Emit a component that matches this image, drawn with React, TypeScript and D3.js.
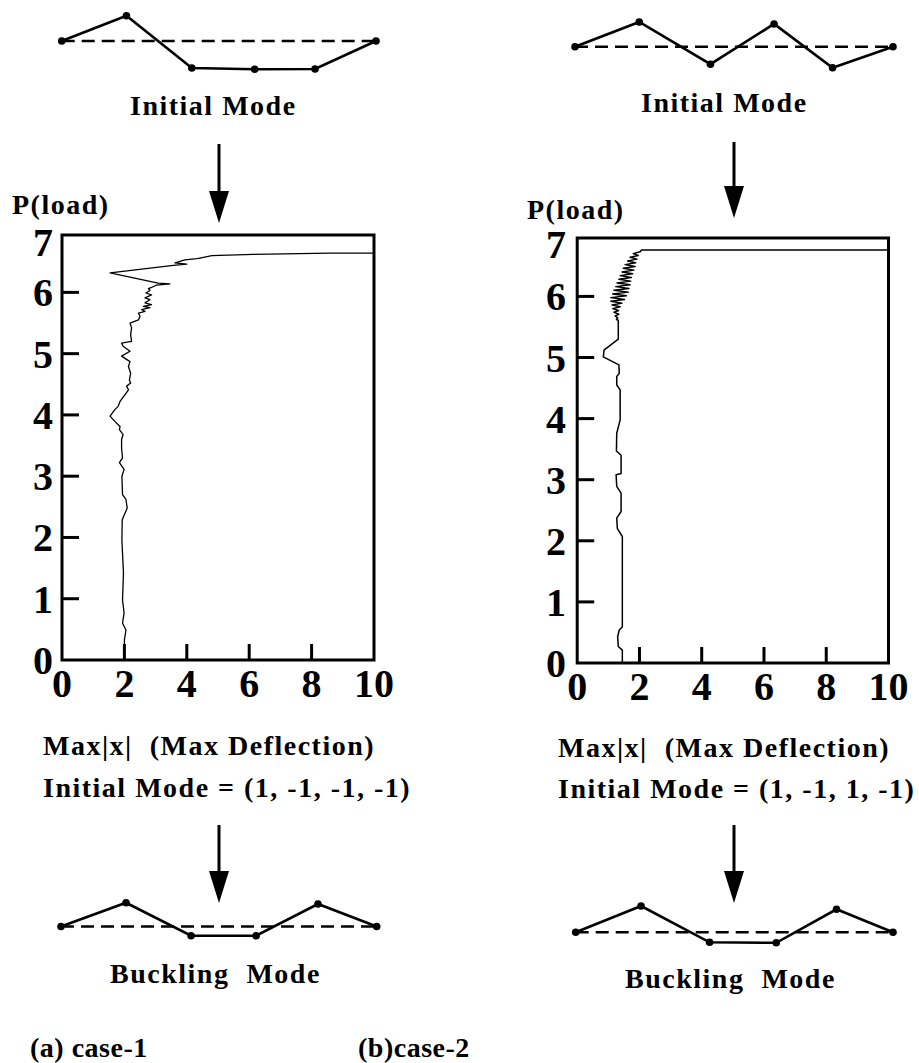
import React from 'react';
import * as d3 from 'd3';

// ---------- axis ticks ----------
const xTickValues = [0, 2, 4, 6, 8, 10];
const yTickValues = [0, 1, 2, 3, 4, 5, 6, 7];

// ---------- case-1 load / max deflection curve ----------
const case1Deflection = [
  2.0, 2.0, 2.05, 1.94, 1.99, 1.94, 1.97, 1.92, 1.93, 2.09, 2.05, 1.94, 1.92, 1.99, 1.84, 1.94,
  1.91, 1.91, 1.96, 1.84, 1.86, 1.7, 1.54, 1.7, 1.8, 1.86, 2.02, 2.13, 2.07, 2.2, 2.16, 2.2,
  2.13, 2.18, 1.91, 2.18, 1.96, 1.91, 2.23, 2.2, 2.23, 2.18, 2.45, 2.5, 2.45, 2.66, 2.55, 2.82,
  2.61, 2.87, 2.66, 2.82, 2.66, 2.87, 2.69, 2.82, 2.77, 2.87, 3.03, 3.46, 3.08, 1.54, 3.57, 4.0,
  3.62, 3.94, 4.32, 4.42, 4.8, 6.13, 8.59, 10.0,
];
const case1Load = [
  0.0, 0.33, 0.49, 0.6, 0.77, 0.98, 1.42, 1.96, 2.29, 2.48, 2.62, 2.7, 3.0, 3.11, 3.22, 3.3,
  3.45, 3.6, 3.68, 3.76, 3.81, 3.89, 3.98, 4.09, 4.14, 4.22, 4.33, 4.41, 4.47, 4.52, 4.57, 4.68,
  4.79, 4.87, 4.96, 5.04, 5.12, 5.17, 5.2, 5.31, 5.42, 5.5, 5.55, 5.61, 5.66, 5.69, 5.72, 5.75,
  5.77, 5.8, 5.83, 5.88, 5.91, 5.96, 5.99, 6.03, 6.06, 6.08, 6.12, 6.14, 6.15, 6.32, 6.44, 6.46,
  6.48, 6.53, 6.55, 6.56, 6.6, 6.62, 6.64, 6.64,
];

// ---------- case-2 load / max deflection curve ----------
const case2Deflection = [
  1.45, 1.45, 1.32, 1.3, 1.35, 1.45, 1.45, 1.29, 1.27, 1.41, 1.41, 1.27, 1.25, 1.41, 1.41, 1.26,
  1.27, 1.38, 1.38, 1.27, 1.27, 1.35, 1.34, 0.84, 0.86, 1.32, 1.32,
  1.26, 1.3, 1.22, 1.34, 1.18, 1.33, 1.14, 1.38, 1.12, 1.44, 1.08, 1.52, 1.08, 1.58, 1.14, 1.64,
  1.18, 1.66, 1.24, 1.7, 1.28, 1.72, 1.34, 1.74, 1.38, 1.78, 1.44, 1.82, 1.48, 1.86, 1.54, 1.88,
  1.62, 1.92, 1.7, 1.96, 1.8, 2.02, 2.07, 10.0,
];
const case2Load = [
  0.0, 0.21, 0.27, 0.43, 0.54, 0.59, 2.07, 2.2, 2.37, 2.48, 2.78, 2.89, 3.08, 3.1, 3.4, 3.47,
  3.76, 3.98, 4.47, 4.55, 4.69, 4.74, 4.88, 5.01, 5.12, 5.3, 5.61,
  5.62, 5.65, 5.68, 5.71, 5.74, 5.77, 5.8, 5.83, 5.86, 5.89, 5.92, 5.95, 5.98, 6.01, 6.04, 6.07,
  6.1, 6.13, 6.16, 6.19, 6.22, 6.25, 6.28, 6.31, 6.34, 6.37, 6.4, 6.43, 6.46, 6.49, 6.52, 6.55,
  6.58, 6.61, 6.64, 6.67, 6.7, 6.73, 6.76, 6.76,
];

// ---------- mode shape diagrams (node position, normalised displacement) ----------
const initialNodesA = [0, 1.03, 2.07, 3.07, 4.03, 5];
const initialModeA = [0, 1.01, -1.08, -1.13, -1.12, 0];
const initialNodesB = [0, 1.01, 2.13, 3.13, 4.05, 5];
const initialModeB = [0, 0.99, -0.7, 0.91, -0.84, 0];
const bucklingNodesA = [0, 1.03, 2.06, 3.09, 4.07, 5];
const bucklingModeA = [0, 0.95, -0.37, -0.37, 0.9, 0];
const bucklingNodesB = [0, 1.03, 2.11, 3.16, 4.11, 5];
const bucklingModeB = [0, 1.05, -0.4, -0.42, 0.92, 0];

const FONT = '"Liberation Serif", "Times New Roman", Times, serif';

type ChartProps = {
  x0: number; x1: number; yBottom: number; unit: number; frameTop: number;
  defl: number[]; load: number[]; labelRight: number; label7Baseline: number; lineWidth: number;
};

function Chart({ x0, x1, yBottom, unit, frameTop, defl, load, labelRight, label7Baseline, lineWidth }: ChartProps) {
  const x = d3.scaleLinear().domain([0, 10]).range([x0, x1]);
  const y = d3.scaleLinear().domain([0, 1]).range([yBottom, yBottom - unit]);
  const pts: [number, number][] = defl.map((d, i) => [d, load[i]]);
  const line = d3.line<[number, number]>().x(d => x(d[0])).y(d => y(d[1]));
  return (
    <g>
      <path d={line(pts) || ''} fill="none" stroke="#000" strokeWidth={lineWidth} strokeLinejoin="round" />
      <rect x={x0} y={frameTop} width={x1 - x0} height={yBottom - frameTop} fill="none" stroke="#000" strokeWidth={3} />
      {yTickValues.filter(t => t >= 1 && t <= 6).map(t => (
        <line key={'yt' + t} x1={x0} x2={x0 + 17} y1={y(t)} y2={y(t)} stroke="#000" strokeWidth={3} />
      ))}
      {xTickValues.filter(t => t > 0 && t < 10).map(t => (
        <line key={'xt' + t} x1={x(t)} x2={x(t)} y1={yBottom} y2={yBottom - 16} stroke="#000" strokeWidth={3} />
      ))}
      {yTickValues.map(t => (
        <text key={'yl' + t} x={labelRight} y={t === 7 ? label7Baseline : y(t) + 14} textAnchor="end"
          fontFamily={FONT} fontWeight="bold" fontSize={40}>{t}</text>
      ))}
      {xTickValues.map(t => (
        <text key={'xl' + t} x={x(t)} y={yBottom + 37} textAnchor="middle"
          fontFamily={FONT} fontWeight="bold" fontSize={40}>{t}</text>
      ))}
    </g>
  );
}

type ModeProps = { xStart: number; xEnd: number; base: number; nodes: number[]; mode: number[] };

function ModeDiagram({ xStart, xEnd, base, nodes, mode }: ModeProps) {
  const x = d3.scaleLinear().domain([0, 5]).range([xStart, xEnd]);
  const y = d3.scaleLinear().domain([-1, 1]).range([base + 25, base - 25]);
  const pts: [number, number][] = nodes.map((n, i) => [n, mode[i]]);
  const line = d3.line<[number, number]>().x(d => x(d[0])).y(d => y(d[1]));
  return (
    <g>
      <line x1={x(0)} x2={x(5)} y1={base} y2={base} stroke="#000" strokeWidth={2.4} strokeDasharray="13 7" />
      <path d={line(pts) || ''} fill="none" stroke="#000" strokeWidth={2.6} />
      {pts.map((p, i) => (
        <circle key={i} cx={x(p[0])} cy={y(p[1])} r={3.8} fill="#000" />
      ))}
    </g>
  );
}

function Arrow({ x, top, tip }: { x: number; top: number; tip: number }) {
  const headLen = 32;
  return (
    <g>
      <line x1={x} x2={x} y1={top} y2={tip - headLen + 2} stroke="#000" strokeWidth={3} />
      <polygon points={`${x - 10},${tip - headLen} ${x + 10},${tip - headLen} ${x},${tip}`} fill="#000" />
    </g>
  );
}

function Label({ x, y, children, size = 28, spacing = 1.5 }: { x: number; y: number; children: React.ReactNode; size?: number; spacing?: number }) {
  return (
    <text x={x} y={y} fontFamily={FONT} fontWeight="bold" fontSize={size} letterSpacing={spacing}
      style={{ whiteSpace: 'pre' }}>{children}</text>
  );
}

export default function App() {
  return (
    <svg width={919} height={1063} viewBox="0 0 919 1063"
      style={{ position: 'absolute', left: 0, top: 0, background: '#fff' }}>
      <rect x={0} y={0} width={919} height={1063} fill="#fff" />

      {/* case-1 column */}
      <ModeDiagram xStart={61.7} xEnd={376} base={41} nodes={initialNodesA} mode={initialModeA} />
      <Label x={130} y={115}>Initial Mode</Label>
      <Arrow x={219} top={144} tip={223} />
      <Label x={12} y={214}>P(load)</Label>
      <Chart x0={62} x1={374} yBottom={660} unit={61.27} frameTop={235}
        defl={case1Deflection} load={case1Load} labelRight={53} label7Baseline={256} lineWidth={1.3} />
      <Label x={43} y={755}>{'Max|x|  (Max Deflection)'}</Label>
      <Label x={43} y={797}>{'Initial Mode = (1, -1, -1, -1)'}</Label>
      <Arrow x={219} top={825} tip={903} />
      <ModeDiagram xStart={61} xEnd={376.7} base={926.5} nodes={bucklingNodesA} mode={bucklingModeA} />
      <Label x={110} y={983}>{'Buckling  Mode'}</Label>
      <Label x={30} y={1057} spacing={0.5}>(a) case-1</Label>
      <Label x={358} y={1057} spacing={0.5}>(b)case-2</Label>

      {/* case-2 column */}
      <ModeDiagram xStart={575} xEnd={893} base={46.7} nodes={initialNodesB} mode={initialModeB} />
      <Label x={641} y={112}>Initial Mode</Label>
      <Arrow x={734} top={142} tip={218} />
      <Label x={527} y={219}>P(load)</Label>
      <Chart x0={577.2} x1={888.5} yBottom={663} unit={61.1} frameTop={238}
        defl={case2Deflection} load={case2Load} labelRight={566} label7Baseline={258} lineWidth={1.5} />
      <Label x={558} y={757}>{'Max|x|  (Max Deflection)'}</Label>
      <Label x={558} y={798}>{'Initial Mode = (1, -1, 1, -1)'}</Label>
      <Arrow x={734} top={825} tip={903} />
      <ModeDiagram xStart={575.7} xEnd={893} base={932.3} nodes={bucklingNodesB} mode={bucklingModeB} />
      <Label x={625} y={988}>{'Buckling  Mode'}</Label>
    </svg>
  );
}
